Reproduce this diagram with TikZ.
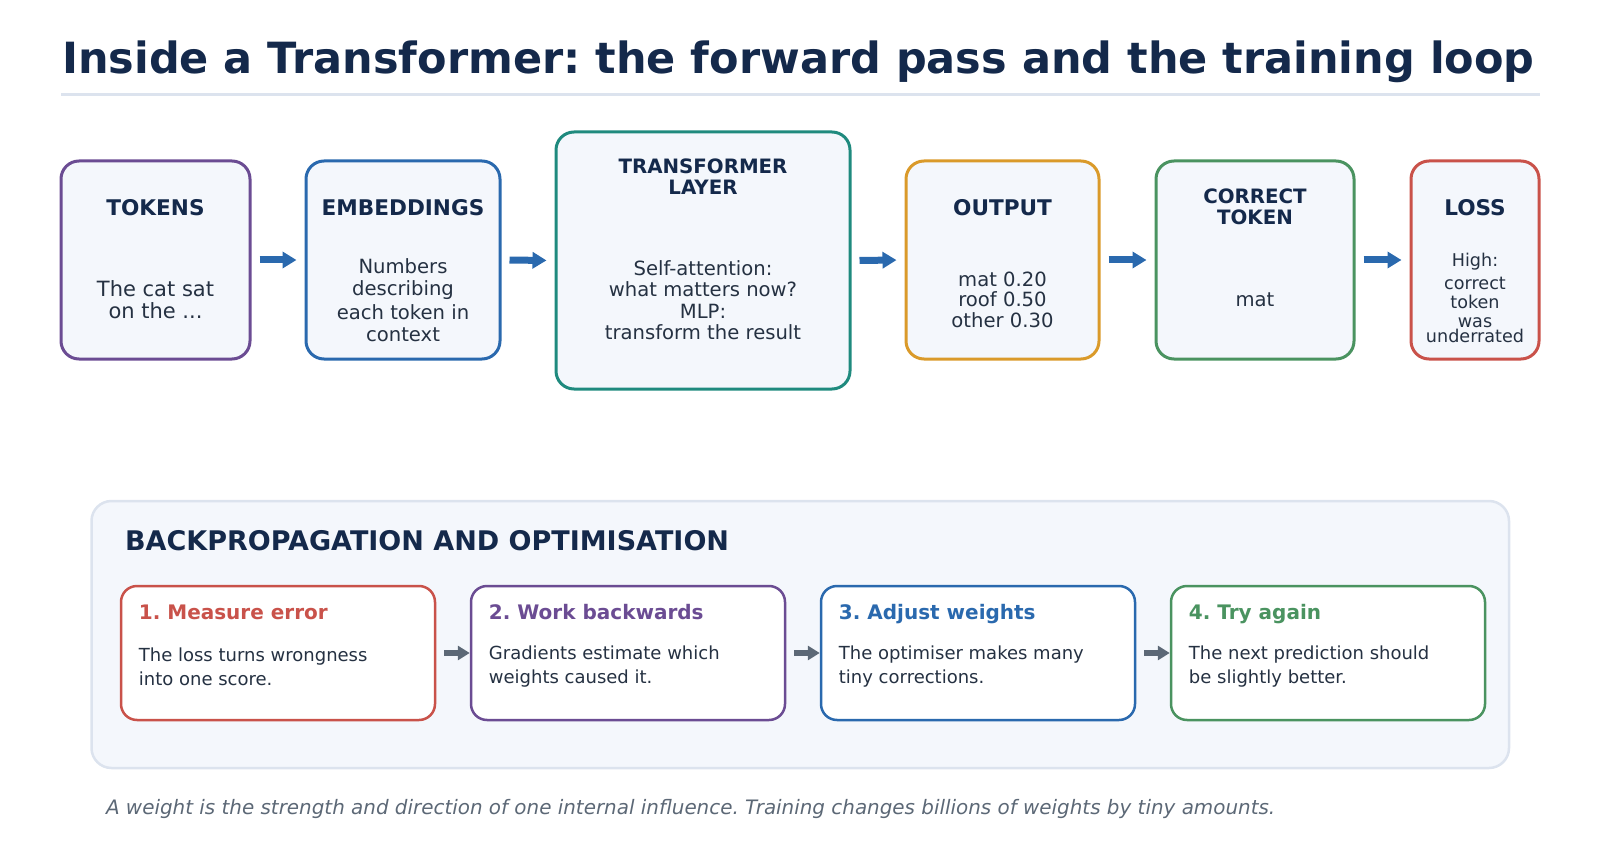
\documentclass[tikz,border=0pt]{standalone}
\usepackage{fontspec}
\setmainfont{DejaVu Sans}
\usetikzlibrary{arrows.meta}
\frenchspacing

\definecolor{navy}{HTML}{14294B}
\definecolor{ink}{HTML}{253142}
\definecolor{paper}{HTML}{F4F7FC}
\definecolor{rulegray}{HTML}{DCE3EE}
\definecolor{cPurple}{HTML}{6B4C93}
\definecolor{cBlue}{HTML}{2A69AE}
\definecolor{cTeal}{HTML}{1F8A7E}
\definecolor{cGold}{HTML}{DA9A2A}
\definecolor{cGreen}{HTML}{4A9360}
\definecolor{cRed}{HTML}{C9524A}
\definecolor{slate}{HTML}{5C6876}

\newcommand{\sz}[2]{\fontsize{#1}{#2}\selectfont}

\tikzset{
  stage/.style={draw=#1, fill=paper, line width=1.5pt, rounded corners=9pt},
  stepbox/.style={draw=#1, fill=white, line width=1.25pt, rounded corners=8pt},
  panel/.style={draw=rulegray, fill=paper, line width=1.25pt, rounded corners=10pt},
  head/.style={text=navy, font=\bfseries\sz{10.8}{11}, align=center},
  head2/.style={text=navy, font=\bfseries\sz{9.9}{10.5}, align=center},
  body/.style={text=ink, align=center},
  flow/.style={-{Triangle[length=7pt,width=8pt]}, line width=3.5pt, cBlue,
    shorten <=4pt, shorten >=4pt},
  back/.style={-{Triangle[length=6pt,width=7pt]}, line width=3pt, slate,
    shorten <=4pt},
}

% name, x, y, width, height, colour (sizes in px)
\newcommand{\stageBox}[6]{
  \node[stage=#6, minimum width=#4*0.5pt, minimum height=#5*0.5pt] (#1) at (#2,#3) {};
}
% name, left x, colour, title, line 1, line 2
\newcommand{\stepBox}[6]{
  \node[stepbox=#3, minimum width=157pt, minimum height=67pt] (#1) at (#2+157,653) {};
  \node[anchor=base west, inner sep=0pt, text=#3, font=\bfseries\sz{10}{12}] (#1Hd) at (#2+17.5,619.5) {#4};
  \node[anchor=west, inner sep=0pt, text=ink, font=\sz{9}{12}, align=left] (#1Tx) at (#2+17.5,667) {#5\\#6};
}

\begin{document}
\begin{tikzpicture}[x=0.5pt, y=-0.5pt]
\useasboundingbox (0,0) rectangle (1600,850);

% Title
\node[anchor=west, text=navy, font=\bfseries\sz{21.5}{24}] (title) at (55,62)
  {Inside a Transformer: the forward pass and the training loop};
\draw[rulegray, line width=1.5pt] (61,95) -- (1540,95);

% Forward pass
\stageBox{tokens}{155.5}{260}{189}{198}{cPurple}
\stageBox{embed}{403}{260}{194}{198}{cBlue}
\stageBox{layer}{703}{260.5}{294}{257}{cTeal}
\stageBox{output}{1002.5}{260}{193}{198}{cGold}
\stageBox{target}{1255}{260}{198}{198}{cGreen}
\stageBox{loss}{1475}{260}{128}{198}{cRed}

\node[head] (tokensHd) at (155.5,208) {TOKENS};
\node[body, font=\sz{10.5}{11}] (tokensTx) at (155.5,300) {The cat sat\\on the ...};

\node[head] (embedHd) at (403,208) {EMBEDDINGS};
\node[body, font=\sz{9.8}{11}] (embedTx) at (403,300)
  {Numbers\\describing\\[1pt]each token in\\context};

\node[head2] (layerHd) at (703,177) {TRANSFORMER\\LAYER};
\node[body, font=\sz{9.8}{10.7}] (layerTx) at (703,300)
  {Self-attention:\\what matters now?\\MLP:\\transform the result};

\node[head] (outputHd) at (1002.5,208) {OUTPUT};
\node[body, font=\sz{9.8}{10.25}] (outputTx) at (1002.5,299.5)
  {mat 0.20\\roof 0.50\\other 0.30};

\node[head2] (targetHd) at (1255,207) {CORRECT\\TOKEN};
\node[body, font=\sz{9.8}{11}] (targetTx) at (1255,300) {mat};

\node[head] (lossHd) at (1475,208) {LOSS};
\node[body, font=\sz{8.8}{9.5}] (lossTx) at (1475,298)
  {High:\\[2pt]correct\\token\\was\\[-2pt]underrated};

\draw[flow] (tokens.east) -- (embed.west);
\draw[flow] (embed.east) -- (layer.west);
\draw[flow] (layer.east) -- (output.west);
\draw[flow] (output.east) -- (target.west);
\draw[flow] (target.east) -- (loss.west);

% Training loop
\node[panel, minimum width=708.75pt, minimum height=133.5pt] (panel) at (800.25,634.5) {};
\node[anchor=west, text=navy, font=\bfseries\sz{13.5}{15}] (panelHd) at (118,541)
  {BACKPROPAGATION AND OPTIMISATION};

\stepBox{measure}{121}{cRed}{1. Measure error}{The loss turns wrongness}{into one score.}
\stepBox{backward}{471}{cPurple}{2. Work backwards}{Gradients estimate which}{weights caused it.}
\stepBox{adjust}{821}{cBlue}{3. Adjust weights}{The optimiser makes many}{tiny corrections.}
\stepBox{retry}{1171}{cGreen}{4. Try again}{The next prediction should}{be slightly better.}

\draw[back] (measure.east) -- (backward.west);
\draw[back] (backward.east) -- (adjust.west);
\draw[back] (adjust.east) -- (retry.west);

% Footnote
\node[anchor=west, text=slate, font=\itshape\sz{9.95}{12}] (note) at (99,809)
  {A weight is the strength and direction of one internal influence. Training changes billions of weights by tiny amounts.};

\end{tikzpicture}
\end{document}
